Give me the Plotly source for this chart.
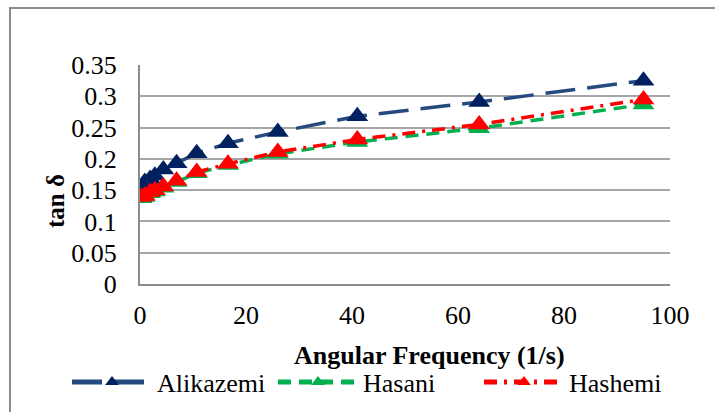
import plotly.graph_objects as go

freq = [0.3, 0.9, 1.9, 2.8, 4.4, 6.9, 10.7, 16.6, 26, 41, 64, 95]
alikazemi = [0.155, 0.163, 0.168, 0.173, 0.183, 0.193, 0.209, 0.225, 0.243, 0.268, 0.291, 0.325]
hasani = [0.137, 0.139, 0.145, 0.148, 0.154, 0.163, 0.177, 0.190, 0.208, 0.227, 0.249, 0.287]
hashemi = [0.139, 0.141, 0.147, 0.150, 0.156, 0.165, 0.179, 0.192, 0.211, 0.231, 0.255, 0.295]

x_ticks = [0, 20, 40, 60, 80, 100]
y_ticks = [0, 0.05, 0.1, 0.15, 0.2, 0.25, 0.3, 0.35]
y_labels = ["0", "0.05", "0.1", "0.15", "0.2", "0.25", "0.3", "0.35"]

FONT = "Liberation Serif, Times New Roman, serif"

fig = go.Figure()
fig.add_trace(go.Scatter(
    x=freq, y=alikazemi, name="Alikazemi", mode="lines+markers",
    line=dict(color="#244A7F", width=3.5, dash="30px,12px"),
    marker=dict(symbol="triangle-up", size=19, color="#002060"),
))
fig.add_trace(go.Scatter(
    x=freq, y=hasani, name="Hasani", mode="lines+markers",
    line=dict(color="#00B050", width=3.5, dash="13px,8px"),
    marker=dict(symbol="triangle-up", size=19, color="#00B050"),
))
fig.add_trace(go.Scatter(
    x=freq, y=hashemi, name="Hashemi", mode="lines+markers",
    line=dict(color="#FF0000", width=3.5, dash="13px,7px,3px,7px"),
    marker=dict(symbol="triangle-up", size=19, color="#FF0000"),
))

L, R, T, B = 140, 670, 65, 284
W, H = 715, 412
pw, ph = R - L, B - T

def px(xp):
    return (xp - L) / pw

def py(yp):
    return (B - yp) / ph

fig.update_layout(
    width=W, height=H,
    margin=dict(l=L, r=W - R, t=T, b=H - B, pad=0, autoexpand=False),
    paper_bgcolor="white", plot_bgcolor="white",
    font=dict(family=FONT, size=26, color="black"),
    showlegend=True,
    legend=dict(
        orientation="h", x=px(67), y=py(382), xanchor="left", yanchor="middle",
        font=dict(family=FONT, size=26, color="black"),
        itemwidth=80, itemsizing="constant", entrywidth=111, entrywidthmode="pixels",
        bgcolor="rgba(0,0,0,0)", tracegroupgap=0,
    ),
    xaxis=dict(
        range=[0, 100], tickvals=x_ticks, ticktext=[str(v) for v in x_ticks],
        showgrid=False, zeroline=False, showline=True, linecolor="#8C8C8C", linewidth=2,
        ticks="", tickfont=dict(family=FONT, size=26), ticklabelstandoff=7,
        fixedrange=True,
    ),
    yaxis=dict(
        range=[0, 0.35], tickvals=y_ticks, ticktext=y_labels,
        showgrid=True, gridcolor="#A6A6A6", gridwidth=1.5, zeroline=False,
        showline=True, linecolor="#8C8C8C", linewidth=2,
        ticks="", tickfont=dict(family=FONT, size=26), ticklabelstandoff=16,
        fixedrange=True,
    ),
    shapes=[dict(
        type="rect", xref="paper", yref="paper",
        x0=px(10), x1=px(730), y0=py(430), y1=py(8),
        line=dict(color="#8C8C8C", width=2), fillcolor="rgba(0,0,0,0)", layer="below",
    )],
    annotations=[
        dict(text="<b>Angular Frequency (1/s)</b>", xref="paper", yref="paper",
             x=px(429), y=py(355), xanchor="center", yanchor="middle", showarrow=False,
             font=dict(family=FONT, size=26, color="black")),
        dict(text="<b>tan δ</b>", xref="paper", yref="paper", textangle=-90,
             x=px(55), y=py(201), xanchor="center", yanchor="middle", showarrow=False,
             font=dict(family=FONT, size=25, color="black")),
    ],
)

fig.write_html(
    "out.html",
    config={"displayModeBar": False},
    post_script="document.body.style.margin='0';document.body.style.overflow='hidden';",
)
